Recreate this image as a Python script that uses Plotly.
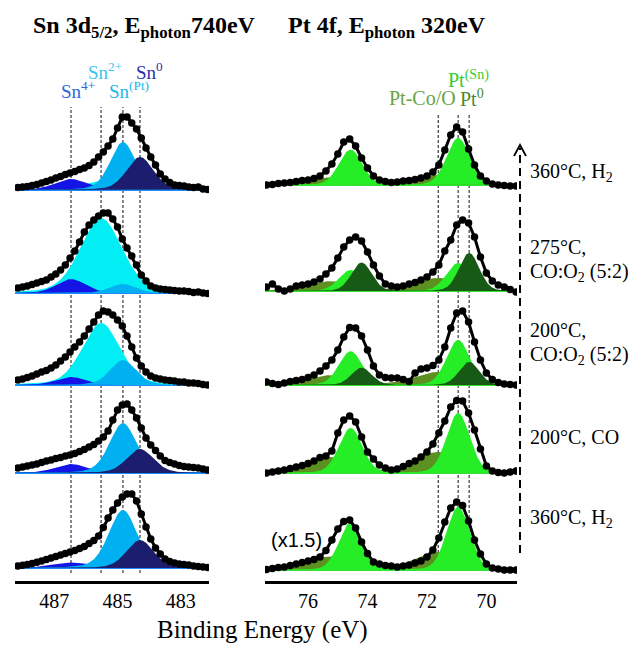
import numpy as np
import plotly.graph_objects as go

FIG_W, FIG_H = 638, 645
AX_BOTTOM_PX, AX_TOP_PX = 581, 100
SPAN = AX_BOTTOM_PX - AX_TOP_PX

SERIF = "Liberation Serif, Times New Roman, serif"
SANS = "Liberation Sans, Arial, sans-serif"

# ---------------------------------------------------------------- data
# conditions, top spectrum first
conditions = [
    ["360°C, H<sub>2</sub>"],
    ["275°C,", "CO:O<sub>2</sub> (5:2)"],
    ["200°C,", "CO:O<sub>2</sub> (5:2)"],
    ["200°C, CO"],
    ["360°C, H<sub>2</sub>"],
]

# Sn 3d5/2 region: binding energy grid (eV) and intensities (a.u.)
sn_be = np.linspace(488.15, 482.15, 41)
sn_360_h2_final = [2.5, 3, 3.5, 4.5, 5.5, 7, 8.5, 10, 12, 13.5, 15.5, 17, 18.5, 20.5, 22,
                   24.5, 28, 33, 38, 44, 51, 62, 73, 73, 67, 61, 52, 42, 33, 25, 16, 11,
                   7.5, 5, 4.5, 4, 3, 2.5, 3, 1, 0.5]
sn_275_coo2 = [5, 6, 7, 8.5, 10, 11.5, 13, 16, 19, 23, 28, 35, 42, 51, 61, 68, 73, 77, 80,
               80, 74, 66, 54, 45, 37, 28, 18, 12, 7, 5, 4, 3.5, 3, 2.5, 2, 2, 1.5, 0.5,
               1, 0, -0.5]
sn_200_coo2 = [5, 6, 7.5, 9, 11, 13, 14.5, 17, 20, 24, 28, 33, 38, 43, 49, 56, 63, 70, 74,
               73, 70, 65, 59, 49, 38, 27, 19, 13, 9, 7, 6, 5, 4.5, 4, 3, 3, 2, 2, 1.5,
               0.5, 0]
sn_200_co = [5, 6, 7, 8, 9, 10.5, 12, 13, 14.5, 15.5, 17, 18, 19.5, 21.5, 23.5, 26, 28.5,
             32, 36, 42, 53, 63, 68, 69, 63, 55, 45, 35, 28, 22.5, 17, 12.5, 10.5, 9, 7.5,
             6.5, 6, 5.5, 5, 4, 3]
sn_360_h2_initial = [2, 2.7, 3.5, 4.5, 5.7, 7, 8.5, 10, 11.5, 13, 14.5, 16, 17.5, 19.5,
                     21.5, 24.5, 27.5, 32, 40.5, 50, 58, 65, 71, 74, 74, 67, 54, 41, 29,
                     20, 14, 9, 6.5, 5, 4, 3.5, 3, 2, 1.5, 1, 0.5]
sn_spectra = [sn_360_h2_final, sn_275_coo2, sn_200_coo2, sn_200_co, sn_360_h2_initial]

# Sn fit components: Sn4+, Sn2+, Sn(Pt), Sn0
sn_names = ["Sn<sup>4+</sup>", "Sn<sup>2+</sup>", "Sn<sup>(Pt)</sup>", "Sn<sup>0</sup>"]
sn_center = [486.47, 485.52, 484.83, 484.29]
sn_fwhm = [
    [1.20, 1.25, 0.95, 1.00],
    [1.05, 1.55, 0.95, 1.00],
    [1.10, 1.40, 0.95, 1.00],
    [1.20, 1.20, 1.00, 1.00],
    [1.40, 1.20, 1.05, 1.00],
]
sn_height = [
    [11, 9, 48, 33],
    [14, 75, 9, 0],
    [8, 62, 25, 0],
    [9, 6, 50, 24],
    [5.5, 3, 58, 28],
]

# Pt 4f region
pt_be = np.linspace(77.4, 69.0, 43)
pt_360_h2_final = [0, 0.5, 1.5, 2, 2.5, 3.5, 4.5, 5, 6.5, 9, 14, 21, 31, 43, 46, 39, 27,
                   17, 9, 5, 3.5, 2.5, 3, 4, 4.5, 5.5, 7, 9, 13, 20, 35, 50, 58, 53, 36,
                   20, 9, 4, 1, 0, -0.5, -1, -1]
pt_275_coo2 = [4, 7, 2, 0, 2, 5, 6, 7, 9, 12, 17, 23, 33, 44, 51, 54, 50, 39, 26, 15, 7,
               5, 4, 5, 7, 8.5, 11, 14, 19, 26, 40, 51, 66, 71, 68, 54, 34, 18, 10, 6, 4,
               1.5, -1]
pt_200_coo2 = [3, 1.5, 0.5, 2, 3.5, 4.5, 5.5, 7.5, 10, 14, 19, 25, 35, 48, 57.5, 57, 49,
               35, 19, 10, 7.5, 7, 7, 5.5, 3.5, 12, 16, 17, 19.5, 25, 38, 57, 72, 74, 63,
               43, 25, 12, 5.5, 2.5, 1, 0.5, 0]
pt_200_co = [0, 1, 2, 3, 4.5, 6, 7.5, 9.5, 12, 15.5, 17, 22, 40, 53, 57, 51, 36, 21, 14, 8,
             5, 3, 4, 6.5, 9.5, 12, 16, 21, 29, 40, 52, 66, 72.5, 72, 60, 43, 24, 7, 2,
             0.5, 0, 1, 2]
pt_360_h2_initial = [0.5, 1.5, 2.5, 3, 4.5, 6, 7.5, 9, 10.5, 13, 19.5, 30, 41, 48.5, 50,
                     42, 28, 16.5, 8, 6, 4.5, 4, 3, 4, 5, 7, 9, 13, 20, 32, 48, 62, 68,
                     64.5, 49, 30, 16, 6, 2, 1, 0, 0, 0]
pt_spectra = [pt_360_h2_final, pt_275_coo2, pt_200_coo2, pt_200_co, pt_360_h2_initial]

# Pt fit components (4f7/2 position; 4f5/2 partner at +split with 3:4 area ratio)
pt_names = ["Pt-Co/O", "Pt<sup>(Sn)</sup>", "Pt<sup>0</sup>"]
pt_center = [71.62, 70.95, 70.58]
pt_fwhm = [1.85, 0.92, 0.80]
pt_split = 3.62
pt_ratio = 0.75
pt_height = [
    [10, 47, 0],
    [13, 28, 38],
    [13, 45, 23],
    [21, 60, 0],
    [18, 63, 0],
]

# ---------------------------------------------------------------- styling
sn_fill = ["#1414e6", "#00eef4", "#00b0f0", "#1d1d6e"]
sn_draw_order = [1, 0, 2, 3]
pt_fill = ["#5c9020", "#26ee26", "#165a16"]
pt_draw_order = [0, 1, 2]
sn_offsets = [391, 288, 196, 108, 13]
pt_offsets = [396, 290, 196, 108, 11]
sn_range = [488.24, 482.11]
pt_range = [77.45, 68.97]


def fx(px):
    return px / FIG_W


def fy(py):
    return (AX_BOTTOM_PX - py) / SPAN


def pv(e, c, h, w, eta):
    d = (e - c) / w
    return h * ((1 - eta) * np.exp(-4 * np.log(2) * d * d) + eta / (1 + 4 * d * d))


fig = go.Figure()


def add_component(grid, y0, curve, color, xa, ya):
    xs = np.concatenate([grid, grid[::-1]])
    ys = np.concatenate([y0 + curve, np.full(grid.size, y0)])
    fig.add_trace(go.Scatter(x=xs, y=ys, mode="lines", fill="toself", fillcolor=color,
                             line=dict(width=0), hoverinfo="skip", xaxis=xa, yaxis=ya))


def add_data(be, y0, values, xa, ya):
    fig.add_trace(go.Scatter(x=be, y=y0 + np.array(values), mode="lines+markers",
                             line=dict(color="black", width=3),
                             marker=dict(color="black", size=7.5),
                             xaxis=xa, yaxis=ya))


sn_grid = np.linspace(sn_range[0], sn_range[1], 500)
pt_grid = np.linspace(pt_range[0], pt_range[1], 500)

for r in range(5):
    # Sn panel
    y0 = sn_offsets[r]
    fig.add_trace(go.Scatter(x=[sn_range[0], sn_range[1]], y=[y0, y0], mode="lines",
                             line=dict(color="#1e8cff", width=2), hoverinfo="skip",
                             xaxis="x", yaxis="y"))
    for k in sn_draw_order:
        h = sn_height[r][k]
        if h <= 0:
            continue
        add_component(sn_grid, y0, pv(sn_grid, sn_center[k], h, sn_fwhm[r][k], 0.25),
                      sn_fill[k], "x", "y")
    add_data(sn_be, y0, sn_spectra[r], "x", "y")

    # Pt panel
    y0 = pt_offsets[r]
    fig.add_trace(go.Scatter(x=[pt_range[0], pt_range[1]], y=[y0, y0], mode="lines",
                             line=dict(color="#33e033", width=2), hoverinfo="skip",
                             xaxis="x2", yaxis="y2"))
    for k in pt_draw_order:
        h = pt_height[r][k]
        if h <= 0:
            continue
        curve = (pv(pt_grid, pt_center[k], h, pt_fwhm[k], 0.12)
                 + pv(pt_grid, pt_center[k] + pt_split, h * pt_ratio, pt_fwhm[k], 0.12))
        add_component(pt_grid, y0, curve, pt_fill[k], "x2", "y2")
    add_data(pt_be, y0, pt_spectra[r], "x2", "y2")

shapes = []
for c in sn_center:
    shapes.append(dict(type="line", xref="x", yref="y", x0=c, x1=c, y0=8, y1=474,
                       line=dict(color="#3a3a3a", width=1.2, dash="3px,2px"), layer="below"))
for c in pt_center:
    shapes.append(dict(type="line", xref="x2", yref="y2", x0=c, x1=c, y0=13, y1=466,
                       line=dict(color="#3a3a3a", width=1.2, dash="3px,2px"), layer="below"))

# sequence axis with arrow on the right
shapes.append(dict(type="line", xref="paper", yref="paper", x0=fx(520), x1=fx(520),
                   y0=fy(553), y1=fy(148), line=dict(color="black", width=2, dash="8px,5px")))
shapes.append(dict(type="path", xref="paper", yref="paper",
                   path=f"M {fx(514)},{fy(156)} L {fx(520)},{fy(145)} L {fx(526)},{fy(156)}",
                   line=dict(color="black", width=1.8)))

ann = []


def text(t, x, y, size, color="black", family=SERIF, xanchor="left"):
    ann.append(dict(text=t, x=fx(x), y=fy(y), xref="paper", yref="paper", showarrow=False,
                    xanchor=xanchor, yanchor="middle",
                    font=dict(family=family, size=size, color=color)))


text("<b>Sn 3d<sub>5/2</sub>, E<sub>photon</sub>740eV</b>", 31, 27, 24)
text("<b>Pt 4f, E<sub>photon</sub> 320eV</b>", 286, 27, 24)

text(sn_names[1], 86, 71, 19, "#3cc4f2")
text(sn_names[3], 134, 71, 19, "#2e2ea8")
text(sn_names[0], 59, 90, 19, "#2d66e0")
text(sn_names[2], 107, 90, 19, "#24b6ec")
text(pt_names[1], 491, 79, 20, "#33cc33", xanchor="right")
text(pt_names[0], 387, 98, 20, "#6aa442")
text(pt_names[2], 458, 98, 20, "#4e8a2c")

label_rows = [[172], [247, 272], [330, 355], [437], [518]]
for lines, ys in zip(conditions, label_rows):
    for t, y in zip(lines, ys):
        text(t, 528, y, 20)

text("(x1.5)", 296, 540, 20, family=SANS, xanchor="center")
text("Binding Energy (eV)", 262, 630, 25, xanchor="center")

axis_common = dict(showline=True, linewidth=2.5, linecolor="black", ticks="",
                   showgrid=False, zeroline=False, automargin=False,
                   tickfont=dict(family=SERIF, size=20, color="black"))

fig.update_layout(
    width=FIG_W, height=FIG_H,
    margin=dict(l=0, r=0, t=AX_TOP_PX, b=FIG_H - AX_BOTTOM_PX),
    paper_bgcolor="white", plot_bgcolor="white",
    showlegend=False,
    xaxis=dict(domain=[fx(15), fx(209)], range=sn_range, tickvals=[487, 485, 483],
               anchor="y", **axis_common),
    xaxis2=dict(domain=[fx(265), fx(517)], range=pt_range, tickvals=[76, 74, 72, 70],
                anchor="y2", **axis_common),
    yaxis=dict(domain=[0, 1], range=[0, SPAN], visible=False, anchor="x"),
    yaxis2=dict(domain=[0, 1], range=[0, SPAN], visible=False, anchor="x2"),
    shapes=shapes,
    annotations=ann,
)

fig.write_html("out.html")
